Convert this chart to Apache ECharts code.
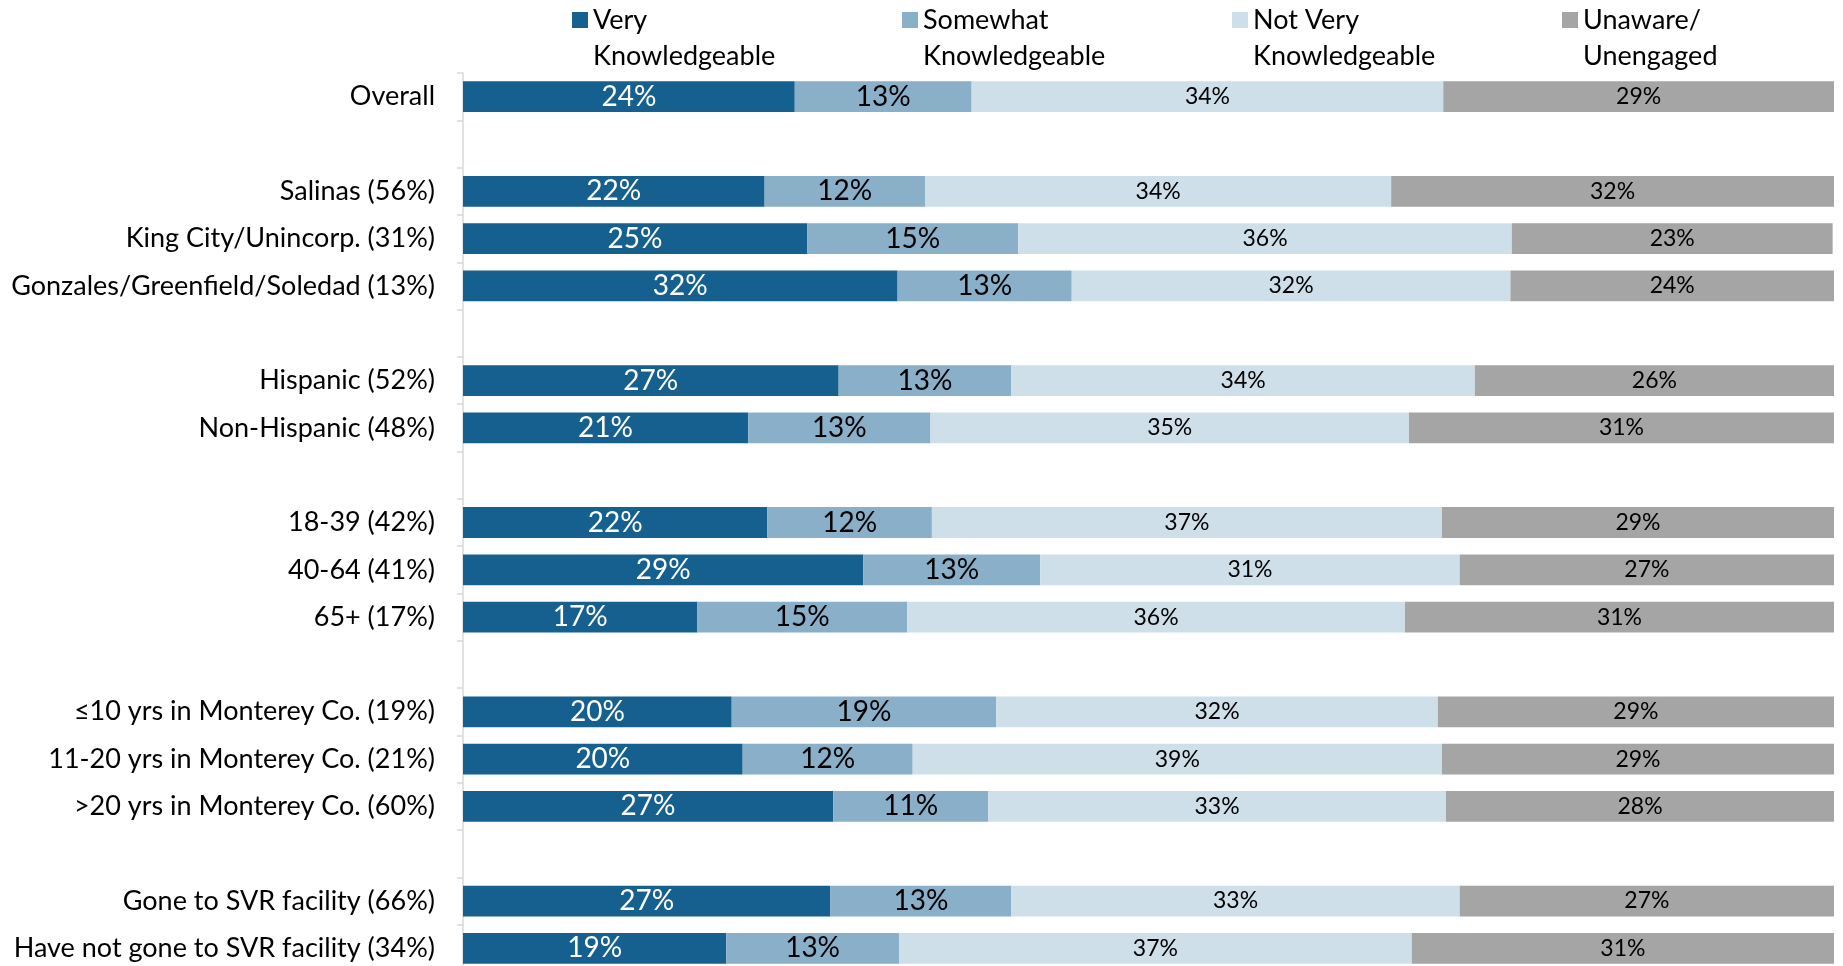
<!DOCTYPE html>
<html>
<head>
<meta charset="utf-8">
<script src="https://cdn.jsdelivr.net/npm/echarts@6/dist/echarts.min.js"></script>
<style>
  html, body { margin: 0; padding: 0; background: #fff; }
  #chart { width: 1843px; height: 966px; }
</style>
</head>
<body>
<div id="chart"></div>
<script>
const categories = [
  'Overall', '',
  'Salinas (56%)', 'King City/Unincorp. (31%)', 'Gonzales/Greenfield/Soledad (13%)', '',
  'Hispanic (52%)', 'Non-Hispanic (48%)', '',
  '18-39 (42%)', '40-64 (41%)', '65+ (17%)', '',
  '≤10 yrs in Monterey Co. (19%)', '11-20 yrs in Monterey Co. (21%)', '>20 yrs in Monterey Co. (60%)', '',
  'Gone to SVR facility (66%)', 'Have not gone to SVR facility (34%)'
];
const seriesNames = ['Very\nKnowledgeable', 'Somewhat\nKnowledgeable', 'Not Very\nKnowledgeable', 'Unaware/\nUnengaged'];

// percentages (labels are rounded)
const veryKnowledgeable = [24.2, null, 22.0, 25.1, 31.7, null, 27.4, 20.8, null, 22.2, 29.2, 17.1, null, 19.6, 20.4, 27.0, null, 26.8, 19.2];
const somewhatKnowledgeable = [12.9, null, 11.7, 15.4, 12.7, null, 12.6, 13.3, null, 12.0, 12.9, 15.3, null, 19.3, 12.4, 11.3, null, 13.2, 12.6];
const notVeryKnowledgeable = [34.4, null, 34.0, 36.0, 32.0, null, 33.8, 34.9, null, 37.2, 30.6, 36.3, null, 32.2, 38.6, 33.4, null, 32.7, 37.4];
const unawareUnengaged = [28.5, null, 32.3, 23.4, 23.6, null, 26.2, 31.0, null, 28.6, 27.3, 31.3, null, 28.9, 28.6, 28.3, null, 27.3, 30.8];

const colors = ['#15608f', '#89afc9', '#cedfe9', '#a5a5a5'];
const FONT = 'Lato';

function makeSeries(name, data, labelColor, labelSize) {
  return {
    name: name,
    type: 'bar',
    stack: 'total',
    barCategoryGap: '35%',
    data: data,
    label: {
      show: true,
      position: 'inside',
      color: labelColor,
      fontFamily: FONT,
      fontSize: labelSize,
      formatter: p => Math.round(p.value) + '%'
    },
    emphasis: { disabled: true }
  };
}

const chart = echarts.init(document.getElementById('chart'));
chart.setOption({
  animation: false,
  color: colors,
  legend: {
    left: 572,
    top: -34,
    width: 1340,
    padding: 0,
    itemWidth: 16,
    itemHeight: 16,
    itemGap: 19,
    itemTextGap: 8,
    icon: 'rect',
    selectedMode: false,
    data: seriesNames,
    // leading blank line keeps the icon level with the first text line
    formatter: name => ' \n' + name,
    textStyle: {
      fontFamily: FONT,
      fontSize: 27,
      color: '#000',
      lineHeight: 36,
      width: 290
    }
  },
  grid: { left: 463, right: 9, top: 73, height: 899, outerBoundsMode: 'none' },
  xAxis: { type: 'value', min: 0, max: 100, show: false },
  yAxis: {
    type: 'category',
    inverse: true,
    data: categories,
    axisLine: { lineStyle: { color: '#d9d9d9', width: 1.5 } },
    axisTick: { show: true, length: 6, lineStyle: { color: '#d9d9d9', width: 1.5 } },
    axisLabel: { fontFamily: FONT, fontSize: 27, color: '#000', margin: 28 }
  },
  series: [
    makeSeries(seriesNames[0], veryKnowledgeable, '#fff', 28),
    makeSeries(seriesNames[1], somewhatKnowledgeable, '#000', 28),
    makeSeries(seriesNames[2], notVeryKnowledgeable, '#000', 23),
    makeSeries(seriesNames[3], unawareUnengaged, '#000', 23)
  ]
});
</script>
</body>
</html>
